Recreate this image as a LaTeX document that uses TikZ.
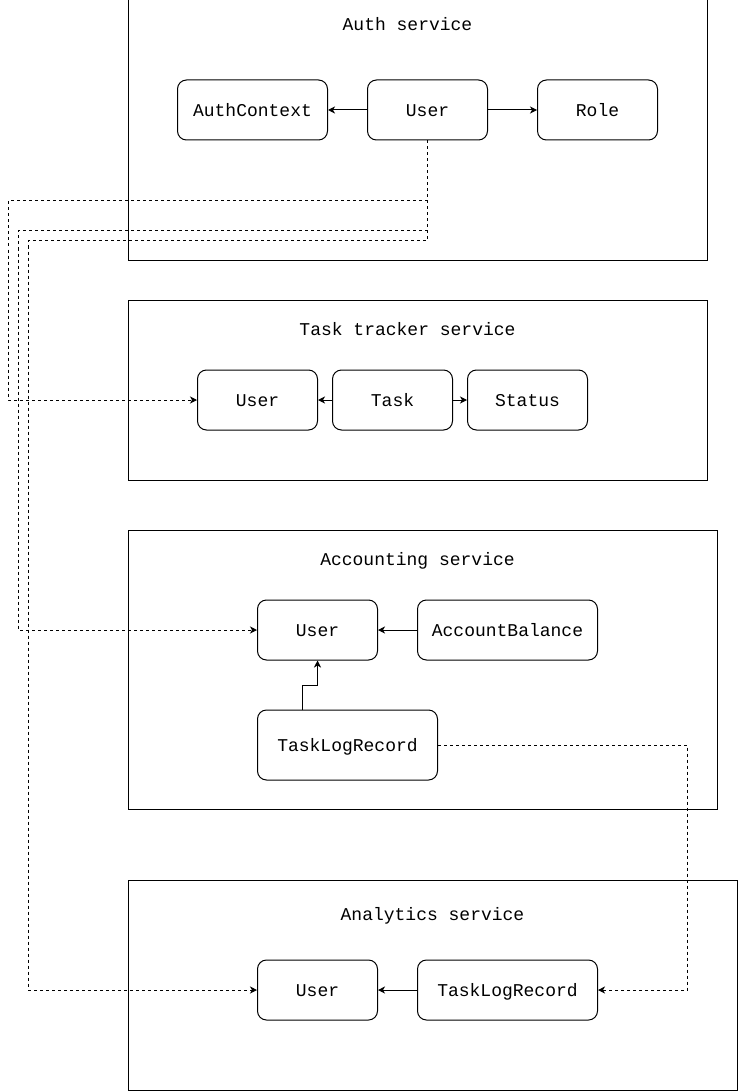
\documentclass[tikz,border=0pt]{standalone}
\usepackage{fontspec}
\newfontfamily\diagmono{Liberation Mono}
\usetikzlibrary{arrows.meta}
\begin{document}
\begin{tikzpicture}[x=1pt,y=-1pt,
  every node/.style={font=\diagmono\fontsize{18}{20}\selectfont},
  cont/.style={draw, line width=1pt, inner sep=0pt},
  ent/.style={draw, line width=1pt, rounded corners=9pt, inner sep=0pt, minimum height=60pt, minimum width=120pt, text height=14pt, text depth=1pt},
  ttl/.style={inner sep=0pt, text height=14pt, text depth=1pt},
  arr/.style={line width=1pt, -{Stealth[length=7pt,width=7pt,inset=2pt]}},
  dsh/.style={line width=1pt, dash pattern=on 3pt off 3pt, -{Stealth[length=7pt,width=7pt,inset=2pt]}}]
\useasboundingbox (0,0) rectangle (738,1091);

% containers
\node[cont, minimum width=579pt, minimum height=260pt] (authbox) at (417.5,130) {};
\node[ttl] (authttl) at (407.5,24) {Auth service};
\node[cont, minimum width=579pt, minimum height=180pt] (taskbox) at (417.5,390) {};
\node[ttl] (taskttl) at (407.5,329) {Task tracker service};
\node[cont, minimum width=589pt, minimum height=279pt] (accbox) at (422.5,669.5) {};
\node[ttl] (accttl) at (417.5,559) {Accounting service};
\node[cont, minimum width=609pt, minimum height=210pt] (anbox) at (432.5,985) {};
\node[ttl] (anttl) at (432.5,914) {Analytics service};

% auth entities
\node[ent, minimum width=150pt] (actx) at (252.5,110) {AuthContext};
\node[ent] (auser) at (427.5,110) {User};
\node[ent] (arole) at (597.5,110) {Role};

% task tracker entities
\node[ent] (tuser) at (257.5,400) {User};
\node[ent] (ttask) at (392.5,400) {Task};
\node[ent] (tstat) at (527.5,400) {Status};

% accounting entities
\node[ent] (cuser) at (317.5,630) {User};
\node[ent, minimum width=180pt] (cbal) at (507.5,630) {AccountBalance};
\node[ent, minimum width=180pt, minimum height=70pt] (clog) at (347.5,745) {TaskLogRecord};

% analytics entities
\node[ent] (nuser) at (317.5,990) {User};
\node[ent, minimum width=180pt] (nlog) at (507.5,990) {TaskLogRecord};

% solid connectors
\draw[arr] (auser) -- (actx);
\draw[arr] (auser) -- (arole);
\draw[arr] (ttask) -- (tuser);
\draw[arr] (ttask) -- (tstat);
\draw[arr] (cbal) -- (cuser);
\draw[arr] (nlog) -- (nuser);
\coordinate (clogtop) at (302.5,710);
\draw[arr] (clogtop) |- (317.5,685.5) -- (cuser.south);

% dashed connectors
\coordinate (k1) at (8.5,200.5);
\coordinate (k2) at (18.5,230.5);
\coordinate (k3) at (28.5,240.5);
\draw[dsh] (auser.south) |- (k1) |- (tuser.west);
\draw[dsh] (auser.south) |- (k2) |- (cuser.west);
\draw[dsh] (auser.south) |- (k3) |- (nuser.west);
\coordinate (k4) at (687.5,990);
\draw[dsh] (clog.east) -| (k4) -- (nlog.east);
\end{tikzpicture}
\end{document}
